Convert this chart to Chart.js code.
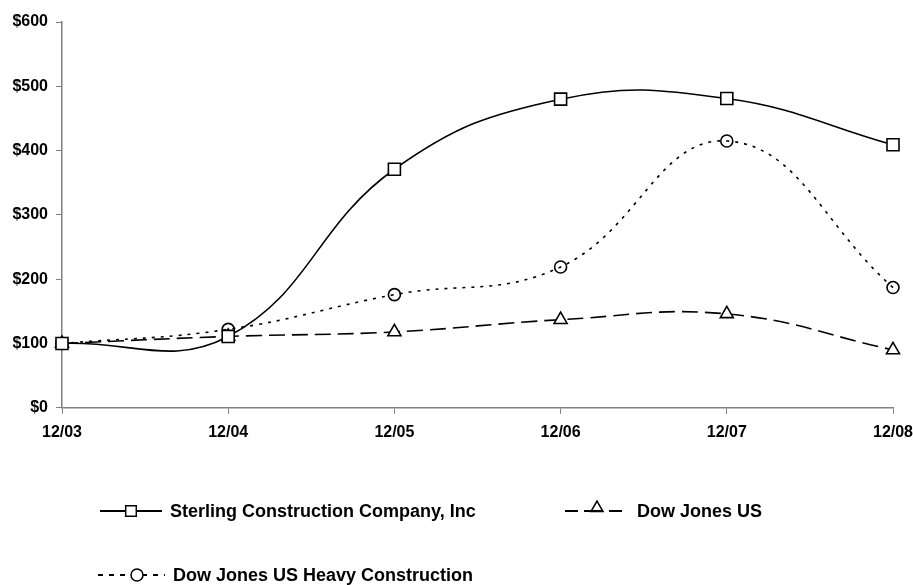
<!DOCTYPE html>
<html>
<head>
<meta charset="utf-8">
<script src="https://cdn.jsdelivr.net/npm/chart.js@4"></script>
<style>
  html, body { margin: 0; padding: 0; background: #fff; }
  #wrap { width: 913px; height: 585px; }
</style>
</head>
<body>
<div id="wrap"><canvas id="perfChart" width="913" height="585"></canvas></div>
<script>
// --- data ---
const periods = ['12/03', '12/04', '12/05', '12/06', '12/07', '12/08'];
const sterling = [100, 111, 371, 480, 481, 409];
const djUS = [100, 111, 118, 137, 146, 90];
const djHeavy = [100, 122, 176, 219, 415, 187];
const yTicks = [0, 100, 200, 300, 400, 500, 600];

const FONT = { family: '"Liberation Sans", Arial, sans-serif', size: 16, weight: 'bold' };

// legend drawn by hand so it sits in two rows like the original
// (kept outside plugin options so Chart.js doesn't resolve the keys)
const legendItems = [
    { index: 0, x: 100, w: 62, mx: 131, my: 511, y: 511, r: 7.5, tx: 170, dash: [], markerFill: '#fff' },
    { index: 1, x: 565, w: 57, mx: 597, my: 508, y: 511, r: 7, tx: 637, dash: [13, 6, 19, 6, 13], markerFill: 'rgba(255,255,255,0)' },
    { index: 2, x: 98, w: 67, mx: 137, my: 575, y: 575, r: 6, tx: 173, dash: [5, 6], markerFill: '#fff' }
];

const legendPlugin = {
    id: 'manualLegend',
    afterDraw(chart) {
        const ctx = chart.ctx;
        ctx.save();
        ctx.font = 'bold 18px "Liberation Sans", Arial, sans-serif';
        ctx.textBaseline = 'middle';
        legendItems.forEach(item => {
            const ds = chart.data.datasets[item.index];
            ctx.strokeStyle = '#000';
            ctx.lineWidth = 2;
            ctx.setLineDash(item.dash);
            ctx.beginPath();
            ctx.moveTo(item.x, item.y);
            ctx.lineTo(item.x + item.w, item.y);
            ctx.stroke();
            ctx.setLineDash([]);
            ctx.fillStyle = item.markerFill;
            ctx.lineWidth = 1.5;
            Chart.helpers.drawPoint(ctx, {
                pointStyle: ds.pointStyle, radius: item.r, borderWidth: 1.5
            }, item.mx, item.my);
            ctx.fillStyle = '#000';
            ctx.fillText(ds.label, item.tx, item.y + 1);
        });
        ctx.restore();
    }
};

const ctx = document.getElementById('perfChart').getContext('2d');
new Chart(ctx, {
    type: 'line',
    data: {
        labels: periods,
        datasets: [
            {
                label: 'Sterling Construction Company, Inc',
                data: sterling,
                borderColor: '#000',
                borderWidth: 1.6,
                pointStyle: 'rect',
                pointRadius: 8.5,
                pointBackgroundColor: '#fff',
                pointBorderColor: '#000',
                pointBorderWidth: 1.6
            },
            {
                label: 'Dow Jones US',
                data: djUS,
                borderColor: '#000',
                borderWidth: 1.6,
                borderDash: [16, 7],
                pointStyle: 'triangle',
                pointRadius: 7.5,
                pointBackgroundColor: '#fff',
                pointBorderColor: '#000',
                pointBorderWidth: 1.6
            },
            {
                label: 'Dow Jones US Heavy Construction',
                data: djHeavy,
                borderColor: '#000',
                borderWidth: 1.6,
                borderDash: [3, 6],
                pointStyle: 'circle',
                pointRadius: 6,
                pointBackgroundColor: 'rgba(255,255,255,0)',
                pointBorderColor: '#000',
                pointBorderWidth: 1.6
            }
        ]
    },
    options: {
        responsive: false,
        animation: false,
        devicePixelRatio: 1,
        tension: 0.42,
        layout: { padding: { left: 0, right: 0, top: 22, bottom: 134 } },
        plugins: {
            legend: { display: false },
            tooltip: { enabled: false }
        },
        scales: {
            x: {
                offset: false,
                afterFit: axis => { axis.paddingRight = 20; },
                grid: { drawOnChartArea: false, drawTicks: true, tickLength: 6, color: '#808080' },
                border: { color: '#808080', width: 1.5 },
                ticks: { color: '#000', font: FONT, padding: 9, maxRotation: 0 }
            },
            y: {
                min: 0,
                max: 600,
                afterBuildTicks: axis => { axis.ticks = yTicks.map(v => ({ value: v })); },
                afterFit: axis => { axis.width = 62; },
                grid: { drawOnChartArea: false, drawTicks: true, tickLength: 6, color: '#808080' },
                border: { color: '#808080', width: 1.5 },
                ticks: { color: '#000', font: FONT, padding: 8, callback: v => '$' + v }
            }
        }
    },
    plugins: [legendPlugin]
});
</script>
</body>
</html>
